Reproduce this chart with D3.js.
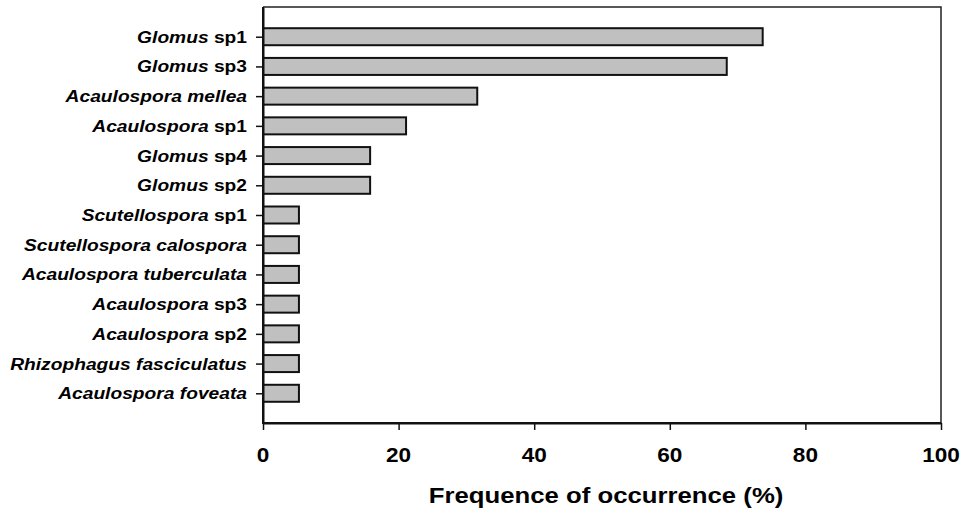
<!DOCTYPE html>
<html>
<head>
<meta charset="utf-8">
<script src="https://cdn.jsdelivr.net/npm/d3@7"></script>
<style>
  body { margin: 0; background: #fff; }
  svg text { font-family: "Liberation Sans", Arial, sans-serif; font-weight: bold; fill: #000; }
</style>
</head>
<body>
<svg id="chart" width="961" height="517"></svg>
<script>
// species, top to bottom: genus + epithet
var genus = ["Glomus", "Glomus", "Acaulospora", "Acaulospora", "Glomus", "Glomus",
  "Scutellospora", "Scutellospora", "Acaulospora", "Acaulospora", "Acaulospora",
  "Rhizophagus", "Acaulospora"];
var epithet = ["sp1", "sp3", "mellea", "sp1", "sp4", "sp2",
  "sp1", "calospora", "tuberculata", "sp3", "sp2",
  "fasciculatus", "foveata"];
// frequence of occurrence (%)
var freq = [73.7, 68.4, 31.6, 21.1, 15.8, 15.8, 5.3, 5.3, 5.3, 5.3, 5.3, 5.3, 5.3];
var xTicks = [0, 20, 40, 60, 80, 100];

var svg = d3.select("#chart");
var pLeft = 263, pRight = 941, pTop = 7, pBottom = 423;
var sx = 1.13; // the reference text is a bit wide

var names = genus.map(function(g, i){ return g + " " + epithet[i]; });

var x = d3.scaleLinear().domain([0, 100]).range([pLeft, pRight]);
var y = d3.scalePoint().domain(names).range([pTop, pBottom]).padding(1);
var barH = 17;

// frame top and right
svg.append("path")
  .attr("d", "M" + pLeft + "," + pTop + "H" + pRight + "V" + pBottom)
  .attr("fill", "none")
  .attr("stroke", "#222")
  .attr("stroke-width", 1.5);

// bars
svg.selectAll("rect.bar")
  .data(freq)
  .enter()
  .append("rect")
    .attr("class", "bar")
    .attr("x", x(0))
    .attr("y", function(d, i){ return y(names[i]) - barH / 2 })
    .attr("width", function(d){ return x(d) - x(0) })
    .attr("height", barH)
    .attr("fill", "#c0c0c0")
    .attr("stroke", "#111")
    .attr("stroke-width", 2);

// axes
var xAxis = svg.append("g")
  .attr("transform", "translate(0," + pBottom + ")")
  .call(d3.axisBottom(x).tickValues(xTicks).tickSize(7).tickSizeOuter(0).tickFormat(""));
var yAxis = svg.append("g")
  .attr("transform", "translate(" + pLeft + ",0)")
  .call(d3.axisLeft(y).tickSize(7).tickSizeOuter(0).tickFormat(""));
[xAxis, yAxis].forEach(function(a){
  a.select(".domain").attr("stroke", "#111").attr("stroke-width", 2);
  a.selectAll(".tick line").attr("stroke", "#111").attr("stroke-width", 1.5);
});
// make the axes meet at the corner
svg.append("path")
  .attr("d", "M" + pLeft + "," + pTop + "V" + pBottom + "H" + pRight)
  .attr("fill", "none").attr("stroke", "#111").attr("stroke-width", 2);

// x tick labels
svg.selectAll("text.xt")
  .data(xTicks)
  .enter()
  .append("text")
    .attr("class", "xt")
    .attr("transform", function(d){ return "translate(" + x(d) + ",462) scale(" + sx + ",1)" })
    .attr("text-anchor", "middle")
    .style("font-size", "20px")
    .text(function(d){ return d });

// species labels: genus italic, epithet italic unless it is "spN"
var lab = svg.selectAll("text.yl")
  .data(names)
  .enter()
  .append("text")
    .attr("class", "yl")
    .attr("transform", function(d){ return "translate(247," + (y(d) + 6) + ") scale(" + sx + ",1)" })
    .attr("text-anchor", "end")
    .style("font-size", "17px");
lab.append("tspan")
  .style("font-style", "italic")
  .text(function(d, i){ return genus[i] + " " });
lab.append("tspan")
  .style("font-style", function(d, i){ return /^sp\d/.test(epithet[i]) ? "normal" : "italic" })
  .text(function(d, i){ return epithet[i] });

// axis title
svg.append("text")
  .attr("transform", "translate(" + ((pLeft + pRight) / 2 + 4) + ",503) scale(1.17,1)")
  .attr("text-anchor", "middle")
  .style("font-size", "22px")
  .text("Frequence of occurrence (%)");
</script>
</body>
</html>
